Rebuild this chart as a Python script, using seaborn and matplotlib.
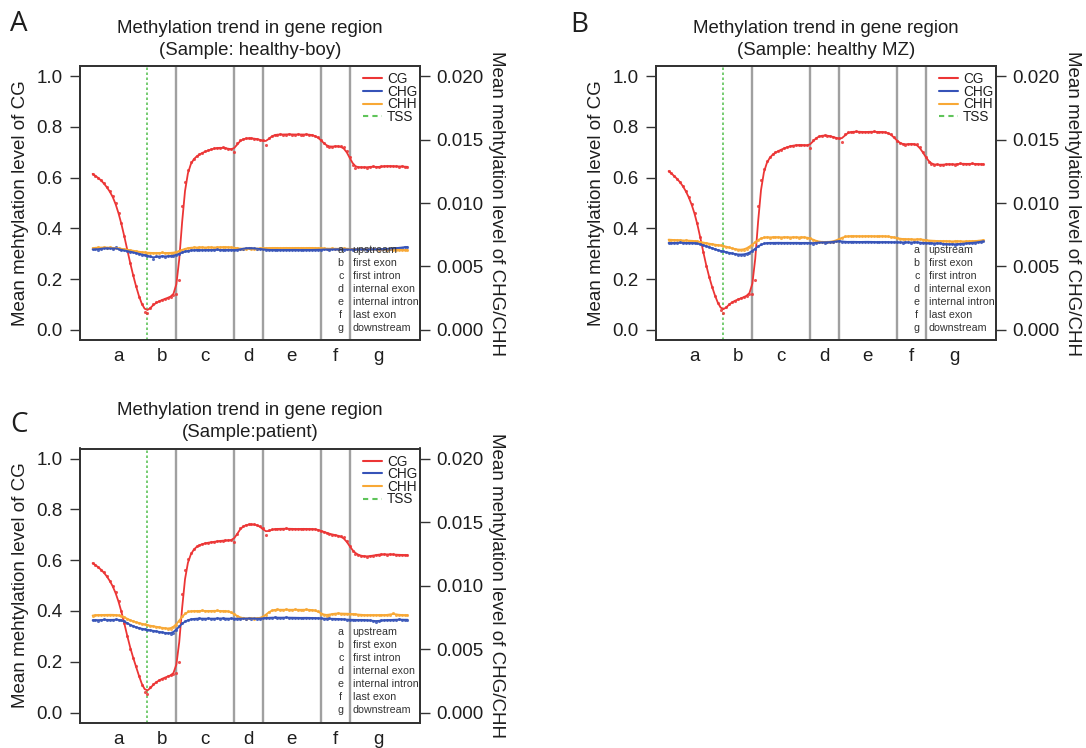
import numpy as np
import matplotlib
matplotlib.use("Agg")
import matplotlib.pyplot as plt
import matplotlib.transforms as mtransforms
from matplotlib.lines import Line2D
from matplotlib.ticker import FormatStrFormatter
import seaborn as sns

sns.set_theme(context="notebook", style="ticks")
plt.rcParams["font.family"] = ["Liberation Sans", "DejaVu Sans"]

# ---------------------------------------------------------------------------
# Gene model: number of bins in each region along the metagene
region_letters = ["a", "b", "c", "d", "e", "f", "g"]
region_names = ["upstream", "first exon", "first intron", "internal exon",
                "internal intron", "last exon", "downstream"]
region_bins = [20, 10, 20, 10, 20, 10, 20]

sample_titles = ["(Sample: healthy-boy)", "(Sample: healthy MZ)", "(Sample:patient)"]
panel_letters = ["A", "B", "C"]

# Mean CG methylation per bin
cg_boy = [
    .615, .606, .600, .590, .577, .562, .546, .528, .500, .462, .420, .370, .315, .262, .215, .172, .130, .100, .072, .066,
    .088, .100, .108, .112, .118, .122, .126, .130, .136, .140,
    .195, .488, .583, .632, .662, .675, .685, .692, .698, .703, .707, .711, .715, .718, .717, .719, .716, .714, .713, .700,
    .735, .748, .752, .755, .756, .755, .754, .752, .750, .748,
    .728, .758, .765, .769, .770, .771, .769, .770, .772, .770, .769, .771, .770, .769, .771, .770, .768, .766, .760, .750,
    .735, .724, .720, .722, .724, .725, .723, .720, .705, .680,
    .650, .638, .640, .642, .641, .639, .643, .645, .642, .640, .644, .646, .645, .647, .644, .645, .643, .646, .642, .643,
]
cg_mz = [
    .625, .618, .605, .595, .584, .567, .548, .525, .497, .462, .420, .365, .305, .250, .210, .168, .135, .105, .078, .068,
    .090, .103, .110, .115, .120, .124, .128, .134, .140, .142,
    .195, .490, .590, .635, .665, .682, .692, .700, .705, .710, .716, .720, .724, .726, .728, .729, .728, .729, .728, .718,
    .748, .758, .763, .766, .767, .766, .764, .760, .757, .755,
    .740, .772, .779, .781, .780, .782, .781, .780, .779, .781, .780, .782, .780, .779, .781, .780, .777, .772, .760, .745,
    .735, .731, .730, .732, .733, .734, .733, .720, .700, .682,
    .662, .652, .650, .652, .651, .649, .653, .655, .652, .650, .654, .656, .655, .653, .654, .656, .653, .655, .652, .653,
]
cg_patient = [
    .588, .582, .572, .563, .552, .536, .520, .500, .474, .440, .400, .352, .300, .252, .215, .185, .145, .110, .080, .072,
    .100, .112, .120, .127, .133, .138, .142, .146, .150, .155,
    .198, .468, .560, .605, .628, .645, .655, .660, .664, .667, .669, .671, .672, .674, .676, .677, .678, .678, .680, .672,
    .705, .725, .735, .739, .741, .742, .741, .740, .733, .727,
    .698, .718, .721, .723, .724, .723, .724, .725, .723, .724, .723, .722, .724, .723, .724, .722, .723, .724, .720, .716,
    .712, .708, .704, .701, .699, .697, .694, .690, .675, .655,
    .637, .625, .620, .617, .615, .614, .616, .618, .620, .622, .624, .623, .622, .624, .623, .621, .622, .620, .621, .620,
]

# Mean CHG / CHH methylation per bin, in per mille
chg_boy = [
    6.34, 6.38, 6.32, 6.40, 6.44, 6.48, 6.42, 6.36, 6.52, 6.34, 6.30, 6.26, 6.22, 6.16, 6.12, 6.06, 6.00, 5.94, 5.90, 5.86,
    5.80, 5.56, 5.82, 5.78, 5.84, 5.76, 5.80, 5.84, 5.82, 5.90,
    6.00, 6.10, 6.18, 6.24, 6.26, 6.28, 6.32, 6.30, 6.26, 6.30, 6.32, 6.28, 6.30, 6.34, 6.30, 6.28, 6.32, 6.30, 6.32, 6.30,
    6.26, 6.36, 6.40, 6.44, 6.46, 6.44, 6.42, 6.40, 6.38, 6.36,
    6.32, 6.30, 6.28, 6.32, 6.30, 6.28, 6.30, 6.32, 6.28, 6.30, 6.32, 6.30, 6.28, 6.30, 6.32, 6.28, 6.30, 6.32, 6.30, 6.32,
    6.34, 6.36, 6.32, 6.36, 6.34, 6.38, 6.36, 6.32, 6.34, 6.36,
    6.32, 6.36, 6.34, 6.38, 6.36, 6.32, 6.38, 6.36, 6.34, 6.36, 6.38, 6.36, 6.40, 6.38, 6.42, 6.44, 6.48, 6.46, 6.56, 6.52,
]
chh_boy = [
    6.44, 6.48, 6.50, 6.46, 6.52, 6.48, 6.50, 6.46, 6.44, 6.42, 6.40, 6.36, 6.32, 6.28, 6.24, 6.20, 6.16, 6.12, 6.10, 6.08,
    6.06, 6.08, 6.04, 6.06, 6.10, 6.04, 6.06, 6.08, 6.06, 6.12,
    6.20, 6.32, 6.40, 6.46, 6.48, 6.50, 6.48, 6.52, 6.50, 6.48, 6.52, 6.50, 6.48, 6.52, 6.50, 6.52, 6.54, 6.50, 6.52, 6.48,
    6.44, 6.40, 6.38, 6.40, 6.42, 6.40, 6.38, 6.40, 6.42, 6.44,
    6.46, 6.44, 6.46, 6.48, 6.44, 6.46, 6.44, 6.48, 6.46, 6.44, 6.46, 6.48, 6.44, 6.46, 6.44, 6.48, 6.46, 6.44, 6.46, 6.44,
    6.42, 6.40, 6.38, 6.42, 6.40, 6.38, 6.40, 6.42, 6.40, 6.38,
    6.38, 6.36, 6.34, 6.38, 6.36, 6.34, 6.36, 6.38, 6.34, 6.32, 6.36, 6.34, 6.32, 6.34, 6.32, 6.30, 6.32, 6.30, 6.28, 6.30,
]
chg_mz = [
    6.86, 6.82, 6.88, 6.84, 6.90, 6.86, 6.82, 6.88, 6.84, 6.86, 6.82, 6.76, 6.66, 6.60, 6.54, 6.44, 6.36, 6.28, 6.22, 6.18,
    6.12, 6.08, 6.02, 5.98, 5.94, 5.92, 5.94, 5.98, 6.06, 6.20,
    6.40, 6.60, 6.74, 6.82, 6.86, 6.88, 6.84, 6.86, 6.88, 6.86, 6.84, 6.88, 6.86, 6.84, 6.88, 6.86, 6.84, 6.86, 6.88, 6.84,
    6.80, 6.88, 6.90, 6.92, 6.88, 6.94, 6.90, 6.92, 7.00, 7.04,
    6.96, 6.94, 6.92, 6.94, 6.96, 6.92, 6.94, 6.92, 6.94, 6.96, 6.92, 6.94, 6.92, 6.90, 6.92, 6.94, 6.92, 6.90, 6.92, 6.90,
    6.90, 6.88, 6.92, 6.90, 6.88, 6.90, 6.92, 6.88, 6.86, 6.84,
    6.84, 6.82, 6.80, 6.84, 6.82, 6.78, 6.76, 6.74, 6.78, 6.72, 6.76, 6.80, 6.78, 6.82, 6.84, 6.86, 6.88, 6.90, 6.94, 7.00,
]
chh_mz = [
    7.12, 7.08, 7.10, 7.06, 7.08, 7.04, 7.06, 7.02, 7.04, 7.00, 6.98, 6.94, 6.88, 6.84, 6.80, 6.76, 6.72, 6.68, 6.66, 6.62,
    6.56, 6.50, 6.42, 6.36, 6.32, 6.30, 6.32, 6.40, 6.54, 6.72,
    6.92, 7.12, 7.24, 7.30, 7.32, 7.28, 7.30, 7.32, 7.30, 7.28, 7.32, 7.30, 7.28, 7.32, 7.30, 7.28, 7.30, 7.32, 7.28, 7.24,
    7.12, 7.00, 6.94, 6.92, 6.94, 6.92, 6.94, 6.96, 7.04, 7.16,
    7.28, 7.36, 7.38, 7.40, 7.38, 7.40, 7.38, 7.36, 7.40, 7.38, 7.40, 7.38, 7.36, 7.38, 7.40, 7.38, 7.36, 7.34, 7.30, 7.24,
    7.18, 7.16, 7.14, 7.16, 7.14, 7.12, 7.14, 7.16, 7.12, 7.08,
    7.04, 7.02, 7.04, 7.00, 6.98, 7.02, 7.00, 6.98, 6.96, 7.00, 6.98, 7.00, 6.96, 6.98, 7.00, 6.98, 7.00, 7.02, 7.04, 7.08,
]
chg_patient = [
    7.26, 7.32, 7.24, 7.30, 7.34, 7.28, 7.32, 7.26, 7.36, 7.32, 7.28, 7.20, 7.04, 6.90, 6.80, 6.72, 6.66, 6.60, 6.56, 6.52,
    6.48, 6.44, 6.40, 6.36, 6.32, 6.28, 6.24, 6.20, 6.28, 6.50,
    6.80, 7.04, 7.20, 7.30, 7.36, 7.38, 7.40, 7.42, 7.40, 7.38, 7.42, 7.40, 7.38, 7.42, 7.40, 7.44, 7.40, 7.38, 7.42, 7.40,
    7.38, 7.40, 7.42, 7.38, 7.44, 7.40, 7.42, 7.38, 7.40, 7.42,
    7.46, 7.48, 7.46, 7.50, 7.48, 7.46, 7.48, 7.50, 7.46, 7.48, 7.46, 7.48, 7.44, 7.46, 7.48, 7.46, 7.44, 7.46, 7.44, 7.42,
    7.40, 7.38, 7.42, 7.36, 7.40, 7.38, 7.34, 7.36, 7.32, 7.30,
    7.32, 7.30, 7.28, 7.32, 7.30, 7.26, 7.28, 7.24, 7.16, 7.22, 7.26, 7.28, 7.30, 7.28, 7.32, 7.30, 7.34, 7.32, 7.30, 7.32,
]
chh_patient = [
    7.64, 7.68, 7.70, 7.66, 7.72, 7.68, 7.70, 7.72, 7.68, 7.66, 7.64, 7.52, 7.38, 7.26, 7.18, 7.12, 7.06, 7.00, 6.94, 6.88,
    6.84, 6.80, 6.76, 6.72, 6.68, 6.64, 6.60, 6.60, 6.70, 6.90,
    7.24, 7.60, 7.84, 7.96, 8.00, 8.02, 7.98, 8.00, 8.04, 8.00, 7.98, 8.02, 8.00, 8.04, 8.00, 7.98, 8.02, 8.00, 7.92, 7.76,
    7.60, 7.48, 7.42, 7.40, 7.44, 7.42, 7.40, 7.44, 7.42, 7.50,
    7.70, 7.94, 8.08, 8.10, 8.12, 8.10, 8.08, 8.12, 8.10, 8.08, 8.12, 8.10, 8.08, 8.10, 8.12, 8.08, 8.10, 8.06, 8.00, 7.80,
    7.68, 7.64, 7.72, 7.78, 7.80, 7.82, 7.80, 7.78, 7.80, 7.78,
    7.76, 7.74, 7.72, 7.70, 7.68, 7.66, 7.68, 7.70, 7.66, 7.68, 7.70, 7.66, 7.68, 7.70, 7.86, 7.72, 7.68, 7.70, 7.66, 7.68,
]

cg_sets = [cg_boy, cg_mz, cg_patient]
chg_sets = [chg_boy, chg_mz, chg_patient]
chh_sets = [chh_boy, chh_mz, chh_patient]

# ---------------------------------------------------------------------------
C_CG = "#ec3535"
C_CHG = "#3653b8"
C_CHH = "#f8a835"
C_TSS = "#5fc45a"
C_BOUND = "#a0a0a0"
C_TEXT = "#1e1e1e"
C_SPINE = "#333333"


def local_linear(values, bw=1.1):
    """Gaussian-weighted local linear smoother along the bin index."""
    y = np.asarray(values, dtype=float)
    idx = np.arange(len(y), dtype=float)
    fit = np.empty(len(y))
    for i in range(len(y)):
        w = np.exp(-0.5 * ((idx - i) / bw) ** 2)
        xm = np.average(idx, weights=w)
        ym = np.average(y, weights=w)
        slope = np.sum(w * (idx - xm) * (y - ym)) / np.sum(w * (idx - xm) ** 2)
        fit[i] = ym + slope * (i - xm)
    return fit


edges = np.concatenate([[0], np.cumsum(region_bins)])
n_bins = int(edges[-1])
pos = np.arange(1, n_bins + 1)
tss_pos = edges[1]
boundaries = edges[2:-1]
mids = (edges[:-1] + edges[1:]) / 2

W, H = 1086, 748
fig = plt.figure(figsize=(W / 100, H / 100), dpi=100)

# axes boxes in pixels: (left, top, right, bottom)
boxes = [(80, 66, 420, 340), (656, 66, 996, 340), (80, 448.5, 420, 722.7)]
letter_xy = [(10, 31), (570, 31.5), (10, 431.5)]

FS_TICK = 13.5
pad_x = 0.04 * (n_bins - 1)

for k in range(3):
    l, t, r, b = boxes[k]
    ax = fig.add_axes([l / W, 1 - b / H, (r - l) / W, (b - t) / H])
    ax2 = ax.twinx()

    ax.set_xlim(1 - pad_x, n_bins + pad_x)
    ax.set_ylim(-0.04, 1.04)
    ax2.set_ylim(-0.0008, 0.0208)

    # region boundaries and TSS
    for xb in boundaries:
        ax.axvline(xb, color=C_BOUND, lw=1.7, zorder=1)
    ax.axvline(tss_pos, color=C_TSS, lw=1.2, ls=(0, (1.5, 1.5)), zorder=1)

    cg = np.asarray(cg_sets[k])
    chg = np.asarray(chg_sets[k]) / 1000.0
    chh = np.asarray(chh_sets[k]) / 1000.0

    sns.scatterplot(x=pos, y=cg, ax=ax, color=C_CG, s=5, linewidth=0, alpha=0.85, zorder=3, legend=False)
    sns.lineplot(x=pos, y=local_linear(cg), ax=ax, color=C_CG, lw=1.3, zorder=4, legend=False)

    for vals, col in [(chh, C_CHH), (chg, C_CHG)]:
        sns.scatterplot(x=pos, y=vals, ax=ax2, color=col, s=5, linewidth=0, alpha=0.85, zorder=3, legend=False)
        sns.lineplot(x=pos, y=local_linear(vals), ax=ax2, color=col, lw=1.3, zorder=4, legend=False)

    # axes styling
    for a in (ax, ax2):
        for sp in a.spines.values():
            sp.set_visible(True)
            sp.set_color(C_SPINE)
            sp.set_linewidth(1.3)
    ax.set_yticks(np.arange(0, 1.01, 0.2))
    ax.yaxis.set_major_formatter(FormatStrFormatter("%.1f"))
    ax2.set_yticks([0, 0.005, 0.010, 0.015, 0.020])
    ax2.yaxis.set_major_formatter(FormatStrFormatter("%.3f"))
    ax.set_xticks(mids)
    ax.set_xticklabels(region_letters)
    ax.tick_params(axis="y", direction="out", length=7, width=1.0, color=C_SPINE,
                   labelsize=FS_TICK, labelcolor=C_TEXT, pad=5.5)
    ax.tick_params(axis="x", length=0, labelsize=FS_TICK, labelcolor=C_TEXT, pad=6)
    ax2.tick_params(axis="y", direction="out", length=7, width=1.0, color=C_SPINE,
                    labelsize=FS_TICK, labelcolor=C_TEXT, pad=5)

    ax.set_xlabel("")
    ax.set_ylabel("Mean mehtylation level of CG", fontsize=FS_TICK, color=C_TEXT, labelpad=5)
    ax2.set_ylabel("Mean mehtylation level of CHG/CHH", fontsize=FS_TICK, color=C_TEXT,
                   rotation=270, va="bottom", labelpad=3)

    ax.set_title("Methylation trend in gene region\n" + sample_titles[k],
                 fontsize=13.4, color=C_TEXT, pad=8, linespacing=1.38)

    # context legend, anchored at the start of the first handle
    handles = [Line2D([], [], color=C_CG, lw=1.5),
               Line2D([], [], color=C_CHG, lw=1.5),
               Line2D([], [], color=C_CHH, lw=1.5),
               Line2D([], [], color=C_TSS, lw=1.5, ls=(0, (2.5, 2)))]
    ax2.legend(handles, ["CG", "CHG", "CHH", "TSS"], loc="upper left",
               bbox_to_anchor=(0.831, 0.978), frameon=False, fontsize=9.8,
               handlelength=1.42, handletextpad=0.38, labelspacing=-0.1,
               borderaxespad=0.0, borderpad=0.0, labelcolor=C_TEXT)

    # region key
    trans = mtransforms.blended_transform_factory(ax.transAxes, ax.transData)
    row_h = 13 / 253.7
    for j, (let, name) in enumerate(zip(region_letters, region_names)):
        yv = 0.316 - j * row_h
        ax2.text(0.767, yv, let, transform=trans, ha="center", va="center",
                 fontsize=7.7, color="#333333", zorder=6)
        ax2.text(0.802, yv, name, transform=trans, ha="left", va="center",
                 fontsize=7.7, color="#333333", zorder=6)

    lx, ly = letter_xy[k]
    fig.text(lx / W, 1 - ly / H, panel_letters[k], fontsize=20,
             family=["Open Sans", "DejaVu Sans"], color=C_TEXT, ha="left", va="baseline")

fig.savefig("out.png", dpi=100)
